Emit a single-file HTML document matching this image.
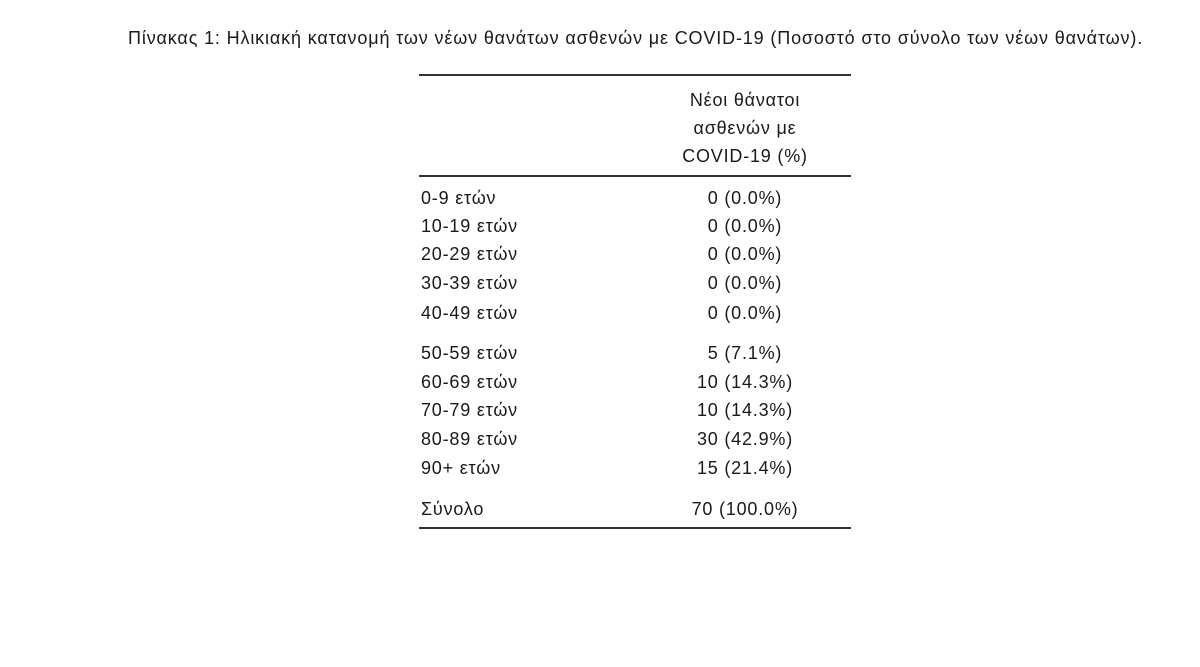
<!DOCTYPE html>
<html><head><meta charset="utf-8"><style>
body{margin:0;width:1200px;height:667px;background:#fff;position:relative;overflow:hidden;font-family:"Liberation Sans","DejaVu Sans",sans-serif;color:#1a1a1a}
.t{position:absolute;font-size:18px;line-height:20px;white-space:nowrap;letter-spacing:0.8px}
.l{left:421px}
.r{left:645px;width:200px;text-align:center}
.h{position:absolute;left:419px;width:432px;height:2px;background:#333}
</style></head><body>
<div class="t" style="left:128px;top:28px;font-size:18px;letter-spacing:0.85px">Πίνακας 1: Ηλικιακή κατανομή των νέων θανάτων ασθενών με COVID-19 (Ποσοστό στο σύνολο των νέων θανάτων).</div>
<div class="h" style="top:74px"></div>
<div class="t r" style="top:90px">Νέοι θάνατοι</div>
<div class="t r" style="top:118px">ασθενών με</div>
<div class="t r" style="top:146px">COVID-19 (%)</div>
<div class="h" style="top:175px"></div>
<div class="t l" style="top:188px">0-9 ετών</div><div class="t r" style="top:188px">0 (0.0%)</div>
<div class="t l" style="top:216px">10-19 ετών</div><div class="t r" style="top:216px">0 (0.0%)</div>
<div class="t l" style="top:244px">20-29 ετών</div><div class="t r" style="top:244px">0 (0.0%)</div>
<div class="t l" style="top:273px">30-39 ετών</div><div class="t r" style="top:273px">0 (0.0%)</div>
<div class="t l" style="top:303px">40-49 ετών</div><div class="t r" style="top:303px">0 (0.0%)</div>
<div class="t l" style="top:343px">50-59 ετών</div><div class="t r" style="top:343px">5 (7.1%)</div>
<div class="t l" style="top:372px">60-69 ετών</div><div class="t r" style="top:372px">10 (14.3%)</div>
<div class="t l" style="top:400px">70-79 ετών</div><div class="t r" style="top:400px">10 (14.3%)</div>
<div class="t l" style="top:429px">80-89 ετών</div><div class="t r" style="top:429px">30 (42.9%)</div>
<div class="t l" style="top:458px">90+ ετών</div><div class="t r" style="top:458px">15 (21.4%)</div>
<div class="t l" style="top:499px">Σύνολο</div><div class="t r" style="top:499px">70 (100.0%)</div>
<div class="h" style="top:527px"></div>
</body></html>
